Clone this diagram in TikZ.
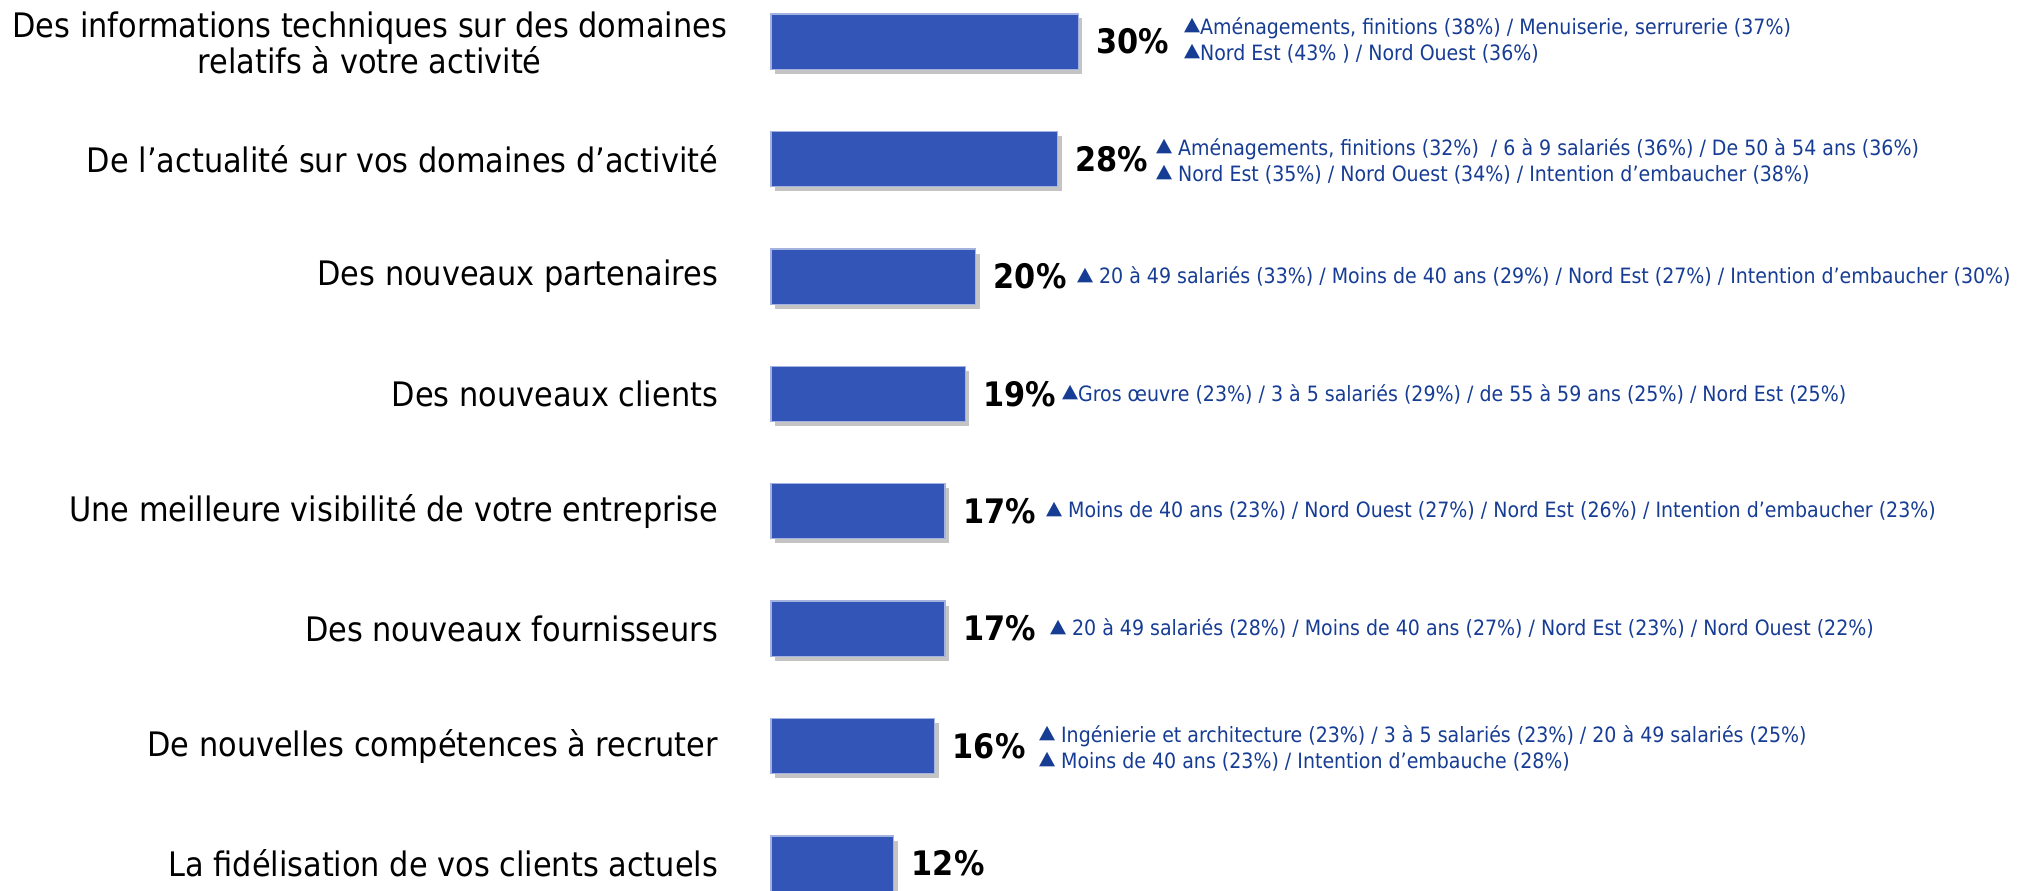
\documentclass[tikz,border=0pt]{standalone}
\usepackage{fontspec}
\setmainfont{DejaVu Sans}[FakeStretch=0.9]
\usetikzlibrary{positioning,shadows}

\definecolor{barblue}{HTML}{3355B8}
\definecolor{noteblue}{HTML}{163C94}
\definecolor{shadowgrey}{HTML}{C4C4C4}
\newcommand{\uptri}{\raisebox{0.3ex}{\scalebox{1.1}[0.9]{▲}}}

\begin{document}
\begin{tikzpicture}[
            x=0.01cm, y=-0.01cm,
            every node/.style={inner sep=0pt, outer sep=0pt},
            item/.style={anchor=east, font=\fontsize{9.6}{10.2}\selectfont},
            bar/.style={anchor=west, fill=barblue, draw=barblue!45, line width=0.3pt,
                minimum height=0.55cm, minimum width=#1*0.1023cm,
                drop shadow={shadow xshift=0.04cm, shadow yshift=-0.045cm, fill=shadowgrey, opacity=1}},
            pct/.style={right=0.18cm of #1, font=\fontsize{9.6}{10}\selectfont\bfseries},
            note/.style={anchor=west, align=left, text=noteblue, font=\fontsize{6}{7.4}\selectfont},
            ]
            \useasboundingbox (0,0) rectangle (2022,890);
            % libelles
            \node[item, align=center] (lab1) at (727,43) {Des informations techniques sur des domaines\\relatifs à votre activité};
            \node[item] (lab2) at (718,159) {De l’actualité sur vos domaines d’activité};
            \node[item] (lab3) at (718,276.5) {Des nouveaux partenaires};
            \node[item] (lab4) at (718,394) {Des nouveaux clients};
            \node[item] (lab5) at (718,511) {Une meilleure visibilité de votre entreprise};
            \node[item] (lab6) at (718,628.5) {Des nouveaux fournisseurs};
            \node[item] (lab7) at (718,746) {De nouvelles compétences à recruter};
            \node[item] (lab8) at (718,863.5) {La fidélisation de vos clients actuels};
            % barres
            \node[bar=30] (bar1) at (771,41.5) {};
            \node[bar=28] (bar2) at (771,159) {};
            \node[bar=20] (bar3) at (771,276.5) {};
            \node[bar=19] (bar4) at (771,394) {};
            \node[bar=17] (bar5) at (771,511) {};
            \node[bar=17] (bar6) at (771,628.5) {};
            \node[bar=16] (bar7) at (771,746) {};
            \node[bar=12] (bar8) at (771,863.5) {};
            % valeurs
            \node[pct=bar1] (val1) {30\%};
            \node[pct=bar2] (val2) {28\%};
            \node[pct=bar3] (val3) {20\%};
            \node[pct=bar4] (val4) {19\%};
            \node[pct=bar5] (val5) {17\%};
            \node[pct=bar6] (val6) {17\%};
            \node[pct=bar7] (val7) {16\%};
            \node[pct=bar8] (val8) {12\%};
            % sur-representations
            \node[note] (note1) at (1184,40) {\uptri Aménagements, finitions (38\%) / Menuiserie, serrurerie (37\%)\\\uptri Nord Est (43\% ) / Nord Ouest (36\%)};
            \node[note] (note2) at (1156,161) {\uptri\ Aménagements, finitions (32\%)\ \ / 6 à 9 salariés (36\%) / De 50 à 54 ans (36\%)\\\uptri\ Nord Est (35\%) / Nord Ouest (34\%) / Intention d’embaucher (38\%)};
            \node[note] (note3) at (1077,276.5) {\uptri\ 20 à 49 salariés (33\%) / Moins de 40 ans (29\%) / Nord Est (27\%) / Intention d’embaucher (30\%)};
            \node[note] (note4) at (1062,394) {\uptri Gros œuvre (23\%) / 3 à 5 salariés (29\%) / de 55 à 59 ans (25\%) / Nord Est (25\%)};
            \node[note] (note5) at (1046,511) {\uptri\ Moins de 40 ans (23\%) / Nord Ouest (27\%) / Nord Est (26\%) / Intention d’embaucher (23\%)};
            \node[note] (note6) at (1050,628.5) {\uptri\ 20 à 49 salariés (28\%) / Moins de 40 ans (27\%) / Nord Est (23\%) / Nord Ouest (22\%)};
            \node[note] (note7) at (1039,748) {\uptri\ Ingénierie et architecture (23\%) / 3 à 5 salariés (23\%) / 20 à 49 salariés (25\%)\\\uptri\ Moins de 40 ans (23\%) / Intention d’embauche (28\%)};
\end{tikzpicture}
\end{document}
